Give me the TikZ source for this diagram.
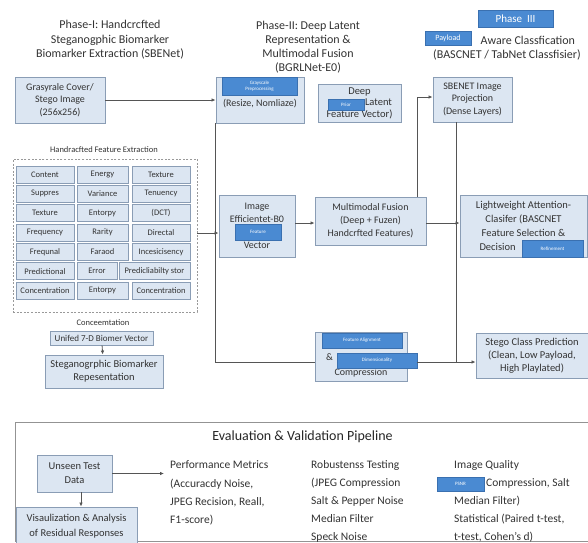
\documentclass[tikz,border=0pt]{standalone}
\usepackage{fontspec}
\setmainfont{Carlito}
\usetikzlibrary{arrows.meta,calc}
\definecolor{boxfill}{HTML}{DCE6F2}
\definecolor{boxline}{HTML}{8A9DB5}
\definecolor{ovfill}{HTML}{4A8AD2}
\definecolor{ovline}{HTML}{3A70B0}
\definecolor{linecol}{HTML}{555555}
\definecolor{txt}{HTML}{333333}
\tikzset{
 bx/.style={draw=boxline, fill=boxfill, line width=0.9pt, inner sep=0pt, align=center, text=txt, font=\fontsize{10}{12.5}\selectfont},
 cell/.style={draw=boxline, fill=boxfill, line width=0.8pt, inner sep=0pt, minimum height=17pt, text=txt, font=\fontsize{8.5}{10}\selectfont},
 ov/.style={draw=ovline, fill=ovfill, line width=0.6pt, inner sep=0pt, text=white, align=center, font=\fontsize{5}{6}\selectfont},
 arr/.style={draw=linecol, line width=0.8pt, -{Latex[length=4pt,width=3.5pt]}},
 ln/.style={draw=linecol, line width=0.8pt},
 head/.style={align=center, text=txt, inner sep=0pt, font=\fontsize{12}{14.5}\selectfont},
 bodytxt/.style={anchor=west, inner sep=0pt, text=txt, font=\fontsize{11.5}{13}\selectfont},
}
\begin{document}
\begin{tikzpicture}[x=1pt,y=-1pt]
\useasboundingbox (0,0) rectangle (588,542);
\fill[white] (0,0) rectangle (588,542);

% ---------- headings
\node[head] (h1) at (110,40) {Phase-I: Handcrcfted\\Steganogphic Biomarker\\Biomarker Extraction (SBENet)};
\node[head, font=\fontsize{12}{14}\selectfont] (h2) at (308,47) {Phase-II: Deep Latent\\Representation \&\\Multimodal Fusion\\(BGRLNet-E0)};
\node[head] (h3) at (507,40) {\strut\\\phantom{Payload-}Aware Classfication\\(BASCNET / TabNet Classfisier)};
\node[ov, minimum width=75pt, minimum height=17pt, font=\fontsize{11}{12}\selectfont] (ovphase) at (515.5,18.5) {Phase\ \ III};
\node[ov, minimum width=46pt, minimum height=14pt, font=\fontsize{8}{9}\selectfont] (ovpay) at (448,38.5) {Payload};

% ---------- phase I
\node[bx, minimum width=90pt, minimum height=46pt] (cover) at (60,100) {Grasyrale Cover/\\Stego Image\\(256x256)};

\node[draw=gray!80, dashed, dash pattern=on 2pt off 1.6pt, line width=0.9pt, minimum width=184pt, minimum height=153pt, inner sep=0pt] (fe) at (105,235.5) {};
\node[text=txt, inner sep=0pt, font=\fontsize{8.5}{10}\selectfont] (fetitle) at (104,150) {Handracfted Feature Extraction};

\foreach \y/\a/\b/\c [count=\i] in {174.5/Content/Energy/Texture, 193.8/Suppres/Variance/Tenuency, 213.2/Texture/Entorpy/{(DCT)}, 232.5/Frequency/Rarity/Directal, 251.8/Frequnal/Faraod/Incesicisency, 290.5/Concentration/Entorpy/Concentration}{
  \node[cell, minimum width=58pt] (ca\i) at (45,\y) {\a};
  \node[cell, minimum width=51pt] (cb\i) at (102.5,\y) {\b};
  \node[cell, minimum width=58pt] (cc\i) at (161,\y) {\c};
}
\node[cell, minimum width=58pt] (ra) at (45,271.2) {Predictional};
\node[cell, minimum width=40pt] (rb) at (97,271.2) {Error};
\node[cell, minimum width=71pt] (rc) at (154.5,271.2) {Predicliabilty stor};

\node[text=txt, inner sep=0pt, font=\fontsize{8.5}{10}\selectfont] (conc) at (103,323) {Conceemtation};
\node[bx, font=\fontsize{9}{11}\selectfont, minimum width=103pt, minimum height=14pt] (unif) at (101.5,338) {Unifed 7-D Biomer Vector};
\node[bx, font=\fontsize{10.5}{13}\selectfont, minimum width=118pt, minimum height=33pt] (srep) at (104,371.5) {Steganogrphic Biomarker\\Repesentation};

% ---------- phase II
\node[bx, minimum width=88pt, minimum height=46pt] (prep) at (260,100) {\\[1pt](Resize, Nomliaze)};
\node[ov, minimum width=75pt, minimum height=18pt] (ovprep) at (259.5,86) {Grayscale\\Preprocessing};
\node[bx, font=\fontsize{10.5}{11.5}\selectfont, minimum width=83pt, minimum height=38pt] (deep) at (359.5,103) {Deep\\\hspace*{38pt}Latent\\Feature Vector)};
\node[ov, minimum width=36pt, minimum height=11pt] (ovprior) at (346,104.5) {Prior};

\node[bx, font=\fontsize{10}{13}\selectfont, minimum width=76pt, minimum height=62pt] (img) at (257,226) {Image\\Efficientet-B0\\\strut\\Vector};
\node[ov, minimum width=46pt, minimum height=16pt] (ovfeat) at (258,232) {Feature};

\node[bx, font=\fontsize{10}{13}\selectfont, minimum width=111pt, minimum height=48pt] (fusion) at (370.5,221) {Multimodal Fusion\\(Deep + Fuzen)\\Handcrfted Features)};

\node[bx, font=\fontsize{10}{15}\selectfont, minimum width=92pt, minimum height=49pt] (falign) at (361,356.5) {\strut\\\& \phantom{Dimensionality}\\Compression};
\node[ov, minimum width=80pt, minimum height=15pt] (ovfa) at (362,340.5) {Feature Alignment};
\node[ov, minimum width=80pt, minimum height=15pt] (ovdim) at (377,360.5) {Dimensionality};

% ---------- phase III
\node[bx, minimum width=79pt, minimum height=45pt] (sbenet) at (472.5,99.5) {SBENET Image\\Projection\\(Dense Layers)};
\node[bx, font=\fontsize{10.5}{14}\selectfont, minimum width=127pt, minimum height=62pt] (light) at (523.5,226) {Lightweight Attention-\\Clasifer (BASCNET\\Feature Selection \&\\Decision \phantom{Refinement}};
\node[ov, minimum width=61pt, minimum height=17pt] (ovref) at (552.5,248.5) {Refinement};
\node[bx, font=\fontsize{10.5}{13}\selectfont, minimum width=112pt, minimum height=45pt] (stego) at (532,355.5) {Stego Class Prediction\\(Clean, Low Payload,\\High Playlated)};

% ---------- connectors
\coordinate (yA) at (0,233);
\coordinate (yB) at (0,223);
\coordinate (xC) at (417,0);
\coordinate (yD) at (0,97);
\coordinate (xE) at (456,0);
\coordinate (yF) at (0,362);
\coordinate (xL) at (215,0);

\draw[arr] (cover) -- (prep);
\draw[ln] (prep.south -| xL) -- (xL |- yF) -- (falign.west |- yF);
\draw[arr] (fe.east |- yA) -- (img.west |- yA);
\draw[arr] (img.east |- yB) -- (fusion.west |- yB);
\draw[arr] (fusion.east |- yB) -- (light.west |- yB);
\draw[arr] (fusion.north -| xC) |- (sbenet.west |- yD);
\draw[ln] (sbenet.south -| xE) -- (xE |- yF);
\draw[arr] (ovdim.east |- yF) -- (stego.west |- yF);
\draw[arr] (unif) -- (srep);

% ---------- evaluation panel
\draw[draw=gray!85, line width=1pt] (15,422) rectangle (600,541);
\node[text=black!85, inner sep=0pt, font=\fontsize{14}{16}\selectfont] (evtitle) at (302.5,437) {Evaluation \& Validation Pipeline};

\node[bx, font=\fontsize{10.5}{14}\selectfont, minimum width=75pt, minimum height=37pt] (unseen) at (74.5,473.5) {Unseen Test\\Data};
\node[bx, font=\fontsize{10.5}{14.5}\selectfont, minimum width=121pt, minimum height=38pt] (vis) at (76.5,526) {Visaulization \& Analysis\\of Residual Responses};

\node[bodytxt] (perf1) at (170,465) {Performance Metrics};
\node[bodytxt] (perf2) at (170,484) {(Accuracdy Noise,};
\node[bodytxt] (perf3) at (170,502) {JPEG Recision, Reall,};
\node[bodytxt] (perf4) at (170,520) {F1-score)};

\node[bodytxt] (rob1) at (311,465) {Robustenss Testing};
\node[bodytxt] (rob2) at (311,483) {(JPEG Compression};
\node[bodytxt] (rob3) at (311,501) {Salt \& Pepper Noise};
\node[bodytxt] (rob4) at (311,519) {Median Filter};
\node[bodytxt] (rob5) at (311,537) {Speck Noise};

\node[bodytxt] (iq1) at (454,465) {Image Quality};
\node[bodytxt] (iq2) at (486,483) {Compression, Salt};
\node[ov, minimum width=47pt, minimum height=14pt] (ovpsnr) at (460.5,484) {PSNR};
\node[bodytxt] (iq3) at (454,501) {Median Filter)};
\node[bodytxt] (iq4) at (454,519) {Statistical (Paired t-test,};
\node[bodytxt] (iq5) at (454,537) {t-test, Cohen's d)};

\coordinate (xH) at (81,0);
\draw[arr] (unseen.east) -- ($(unseen.east -| perf1.west)+(-6,0)$);
\draw[arr] (unseen.south -| xH) -- (vis.north -| xH);
\end{tikzpicture}
\end{document}
